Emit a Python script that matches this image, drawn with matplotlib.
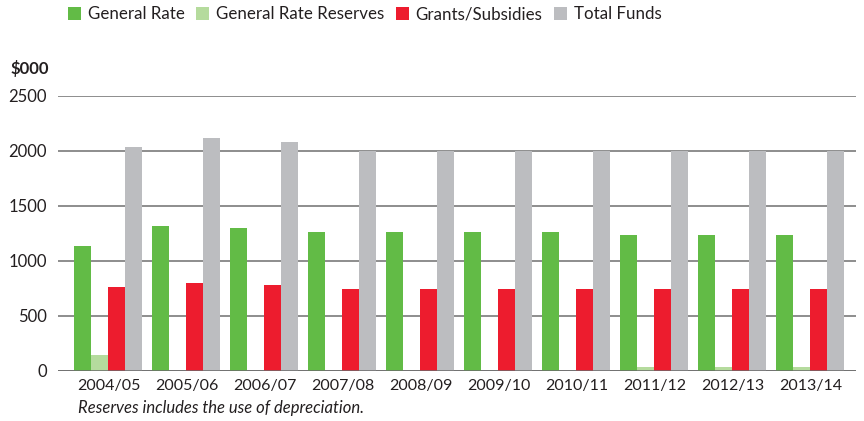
import numpy as np
import matplotlib.pyplot as plt
from matplotlib.patches import Patch

# ---------------------------------------------------------------------------
# Donnees ($000)
# ---------------------------------------------------------------------------
years = ["2004/05", "2005/06", "2006/07", "2007/08", "2008/09",
         "2009/10", "2010/11", "2011/12", "2012/13", "2013/14"]
general_rate = [1135, 1315, 1300, 1260, 1260, 1260, 1260, 1235, 1235, 1235]
rate_reserves = [140, 0, 0, 0, 0, 0, 0, 35, 35, 35]
grants = [760, 800, 780, 745, 745, 745, 745, 745, 745, 745]
total_funds = [2030, 2115, 2080, 2000, 2000, 2000, 2000, 2000, 2000, 2000]
yticks = [0, 500, 1000, 1500, 2000, 2500]

series = [
    ("General Rate", general_rate, "#62BB46"),
    ("General Rate Reserves", rate_reserves, "#B5DB9D"),
    ("Grants/Subsidies", grants, "#ED1C2E"),
    ("Total Funds", total_funds, "#BCBDC0"),
]

FONT = ["Lato", "DejaVu Sans"]
INK = "#231F20"
plt.rcParams["font.family"] = FONT

fig = plt.figure(figsize=(8.64, 4.21), dpi=100)
ax = fig.add_axes([0.0671, 0.1195, 0.9236, 0.6532])

x = np.arange(len(years))
w = 0.218
for i, (name, vals, col) in enumerate(series):
    ax.bar(x + (i - 1.5) * w, vals, width=w, color=col, zorder=3,
           linewidth=0)

ax.set_xlim(-0.647, 9.583)
ax.set_ylim(0, 2500)
ax.set_yticks(yticks)
ax.set_yticklabels([str(v) for v in yticks], fontsize=12, color=INK)
ax.set_xticks(x)
ax.set_xticklabels(years, fontsize=11.5, color=INK)
ax.tick_params(length=0)
ax.tick_params(axis="y", pad=8)
ax.tick_params(axis="x", pad=6)
for s in ax.spines.values():
    s.set_visible(False)
ax.yaxis.grid(True, color="#7A7A7A", lw=1.2, zorder=1)
ax.set_axisbelow(True)
ax.axhline(0, color="#6A6A6A", lw=1.8, zorder=4)

# unite
fig.text(0.012, 0.838, "$000", fontsize=12, fontweight="bold",
         color=INK, ha="left", va="center")

# legende
handles = [Patch(facecolor=c, edgecolor="none", label=n)
           for n, _, c in series]
fig.legend(handles=handles, loc="center left",
           bbox_to_anchor=(0.069, 0.966), ncol=4, frameon=False,
           fontsize=12.2, handlelength=0.75, handleheight=0.75,
           handletextpad=0.4, columnspacing=0.7, borderpad=0,
           labelcolor=INK)

# note
fig.text(0.09, 0.03, "Reserves includes the use of depreciation.",
         fontsize=12, style="italic", color=INK, ha="left", va="center")

fig.savefig("out.png", dpi=100)
